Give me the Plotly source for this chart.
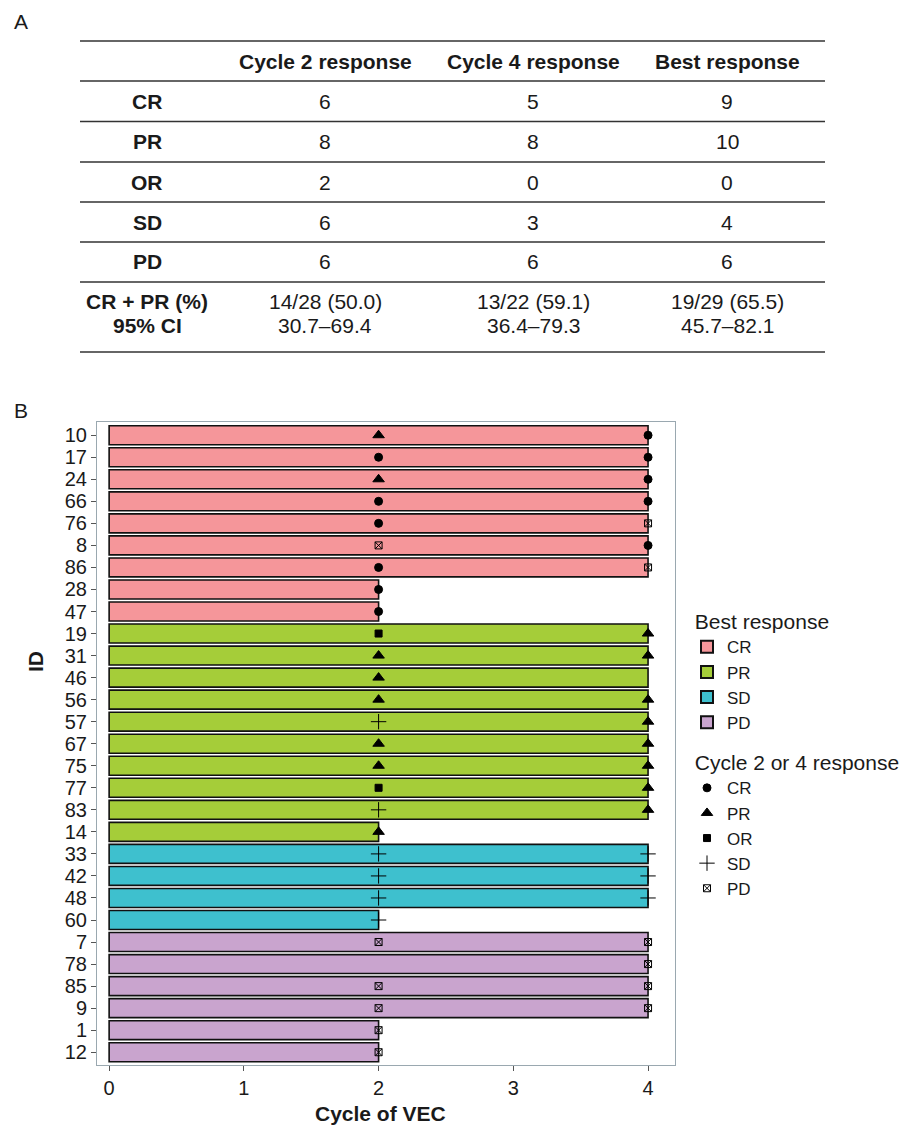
import plotly.graph_objects as go

# ---------------- data ----------------
ids = ["10", "17", "24", "66", "76", "8", "86", "28", "47", "19", "31", "46", "56", "57",
       "67", "75", "77", "83", "14", "33", "42", "48", "60", "7", "78", "85", "9", "1", "12"]
best = ["CR"] * 9 + ["PR"] * 10 + ["SD"] * 4 + ["PD"] * 6
cycles = [4, 4, 4, 4, 4, 4, 4, 2, 2,
          4, 4, 4, 4, 4, 4, 4, 4, 4, 2,
          4, 4, 4, 2,
          4, 4, 4, 4, 2, 2]
resp_c2 = ["PR", "CR", "PR", "CR", "CR", "PD", "CR", "CR", "CR",
           "OR", "PR", "PR", "PR", "SD", "PR", "PR", "OR", "SD", "PR",
           "SD", "SD", "SD", "SD",
           "PD", None, "PD", "PD", "PD", "PD"]
resp_c4 = ["CR", "CR", "CR", "CR", "PD", "CR", "PD", None, None,
           "PR", "PR", None, "PR", "PR", "PR", "PR", "PR", "PR", None,
           "SD", "SD", "SD", None,
           "PD", "PD", "PD", "PD", None, None]
assess_cycles = [2, 4]

best_levels = ["CR", "PR", "SD", "PD"]
best_colors = {"CR": "#F5969A", "PR": "#A5CD39", "SD": "#3EC0CE", "PD": "#C9A4CE"}
resp_levels = ["CR", "PR", "OR", "SD", "PD"]
resp_symbols = {"CR": "circle", "PR": "triangle-up", "OR": "square",
                "SD": "cross-thin-open", "PD": "square-x-open"}
resp_sizes = {"CR": 8, "PR": 10, "OR": 7, "SD": 11, "PD": 7}

# table (panel A)
table_cols = ["Cycle 2 response", "Cycle 4 response", "Best response"]
table_rows = ["CR", "PR", "OR", "SD", "PD"]
counts_c2 = [6, 8, 2, 6, 6]
counts_c4 = [5, 8, 0, 3, 6]
counts_best = [9, 10, 0, 4, 6]
summary_labels = ["CR + PR (%)", "95% CI"]
summary_c2 = ["14/28 (50.0)", "30.7–69.4"]
summary_c4 = ["13/22 (59.1)", "36.4–79.3"]
summary_best = ["19/29 (65.5)", "45.7–82.1"]

# ---------------- figure ----------------
W, H = 902, 1129
FONT = "Liberation Sans, Arial, sans-serif"
TXT = "#1a1a1a"
TFS = 21  # table font size


def px(x):
    return x / W


def py(y):
    return 1 - y / H


fig = go.Figure()

for lvl in best_levels:
    xs = [c for c, b in zip(cycles, best) if b == lvl]
    ys = [i for i, b in zip(ids, best) if b == lvl]
    fig.add_trace(go.Bar(
        x=xs, y=ys, orientation="h", name=lvl, base=0,
        width=0.86,
        marker=dict(color=best_colors[lvl], line=dict(color="#111111", width=1.6)),
        legend="legend",
    ))

for lvl in resp_levels:
    xs, ys = [], []
    for cyc, resp in zip(assess_cycles, [resp_c2, resp_c4]):
        for i, r in zip(ids, resp):
            if r == lvl:
                xs.append(cyc)
                ys.append(i)
    fig.add_trace(go.Scatter(
        x=xs, y=ys, mode="markers", name=lvl,
        marker=dict(symbol=resp_symbols[lvl], size=resp_sizes[lvl], color="black",
                    line=dict(color="black", width=1)),
        legend="legend2", cliponaxis=False,
    ))

fig.update_layout(
    width=W, height=H, autosize=False,
    margin=dict(l=0, r=0, t=0, b=0),
    paper_bgcolor="white", plot_bgcolor="white",
    font=dict(family=FONT, size=18, color=TXT),
    barmode="overlay",
    xaxis=dict(
        domain=[px(97), px(675)], range=[-0.09, 4.2],
        tickvals=[0, 1, 2, 3, 4], ticks="outside", ticklen=5, tickcolor="#555555",
        showgrid=False, zeroline=False, showline=True, linecolor="#9aa8b0",
        linewidth=1, mirror=True, tickfont=dict(size=20, color=TXT),
    ),
    yaxis=dict(
        domain=[py(1065), py(422)], type="category",
        categoryorder="array", categoryarray=ids,
        tickmode="array", tickvals=ids, ticktext=ids,
        range=[28.58, -0.6], ticks="outside", ticklen=5, tickcolor="#555555",
        showgrid=False, zeroline=False, showline=True, linecolor="#9aa8b0",
        linewidth=1, mirror=True, tickfont=dict(size=20, color=TXT),
    ),
    legend=dict(
        x=px(687), y=py(602), xanchor="left", yanchor="top",
        title=dict(text="\u00a0Best response", font=dict(size=21)),
        font=dict(size=17), traceorder="normal", itemsizing="constant",
        bgcolor="rgba(0,0,0,0)", tracegroupgap=0,
    ),
    legend2=dict(
        x=px(687), y=py(743), xanchor="left", yanchor="top",
        title=dict(text="\u00a0Cycle 2 or 4 response", font=dict(size=21)),
        font=dict(size=17), traceorder="normal", itemsizing="trace",
        bgcolor="rgba(0,0,0,0)",
    ),
)

annotations = []
shapes = []

# panel labels
annotations.append(dict(text="A", x=px(12), y=py(22), xref="paper", yref="paper",
                        xanchor="left", yanchor="middle", showarrow=False,
                        font=dict(size=21, color=TXT)))
annotations.append(dict(text="B", x=px(12), y=py(410), xref="paper", yref="paper",
                        xanchor="left", yanchor="middle", showarrow=False,
                        font=dict(size=21, color=TXT)))

# axis titles
annotations.append(dict(text="<b>Cycle of VEC</b>", x=px(380), y=py(1113), xref="paper",
                        yref="paper", xanchor="center", yanchor="middle", showarrow=False,
                        font=dict(size=21, color=TXT)))
annotations.append(dict(text="<b>ID</b>", x=px(35), y=py(662), xref="paper", yref="paper",
                        xanchor="center", yanchor="middle", showarrow=False, textangle=-90,
                        font=dict(size=21, color=TXT)))

# table
col_x = [147, 325, 533, 727]
header_y = 61
row_y = [101, 142, 182, 222, 261]
sum_y = [302, 325]
line_y = [41, 81, 121.5, 162, 202, 242, 282, 352]

for cx, t in zip(col_x[1:], table_cols):
    annotations.append(dict(text=f"<b>{t}</b>", x=px(cx), y=py(header_y), xref="paper",
                            yref="paper", xanchor="center", yanchor="middle",
                            showarrow=False, font=dict(size=TFS, color=TXT)))
for ry, lab, a, b, c in zip(row_y, table_rows, counts_c2, counts_c4, counts_best):
    annotations.append(dict(text=f"<b>{lab}</b>", x=px(col_x[0]), y=py(ry), xref="paper",
                            yref="paper", xanchor="center", yanchor="middle",
                            showarrow=False, font=dict(size=TFS, color=TXT)))
    for cx, v in zip(col_x[1:], [a, b, c]):
        annotations.append(dict(text=str(v), x=px(cx), y=py(ry), xref="paper",
                                yref="paper", xanchor="center", yanchor="middle",
                                showarrow=False, font=dict(size=TFS, color=TXT)))
for k, sy in enumerate(sum_y):
    annotations.append(dict(text=f"<b>{summary_labels[k]}</b>", x=px(col_x[0]), y=py(sy),
                            xref="paper", yref="paper", xanchor="center", yanchor="middle",
                            showarrow=False, font=dict(size=TFS, color=TXT)))
    for cx, vals in zip(col_x[1:], [summary_c2, summary_c4, summary_best]):
        annotations.append(dict(text=vals[k], x=px(cx), y=py(sy), xref="paper",
                                yref="paper", xanchor="center", yanchor="middle",
                                showarrow=False, font=dict(size=TFS, color=TXT)))
for ly in line_y:
    shapes.append(dict(type="line", xref="paper", yref="paper", x0=px(80), x1=px(825),
                       y0=py(ly), y1=py(ly), line=dict(color="#333333", width=1.5)))

fig.update_layout(annotations=annotations, shapes=shapes)

fig.write_html("out.html", config={"displayModeBar": False},
               post_script="document.body.style.margin='0';")
